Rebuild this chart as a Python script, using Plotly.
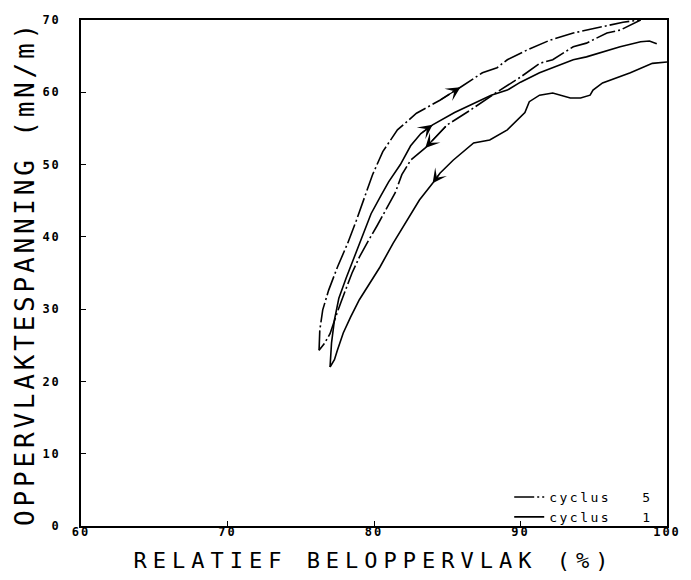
import plotly.graph_objects as go

# ---- data ----
# cyclus 5 (dash-dot): compression (upwards) and expansion (downwards)
c5_comp_x = [76.25, 76.3, 76.5, 76.9, 77.5, 78.2, 78.8, 79.3, 79.9, 80.6, 81.6, 82.9, 84.5, 85.9,
             87.4, 88.4, 89.1, 90.4, 92.0, 93.6, 95.4, 97.0, 98.2]
c5_comp_y = [24.3, 27.1, 29.9, 32.6, 35.8, 39.1, 42.3, 45.3, 48.6, 51.8, 54.8, 57.1, 58.9, 60.7,
             62.7, 63.4, 64.5, 65.8, 67.2, 68.2, 69.0, 69.7, 70.0]
c5_exp_x = [98.2, 96.8, 95.9, 94.5, 93.6, 92.2, 91.3, 90.0, 88.3, 86.55, 85.0, 83.5, 82.5, 81.9,
            81.45, 80.8, 80.2, 79.6, 79.0, 78.5, 78.1, 77.75, 77.4, 77.0, 76.6, 76.25]
c5_exp_y = [70.0, 68.6, 68.2, 66.8, 66.3, 64.5, 64.0, 62.1, 59.9, 57.5, 55.5, 52.3, 50.6, 48.6,
            46.1, 43.6, 41.5, 39.4, 37.2, 35.0, 33.0, 31.0, 29.0, 26.6, 25.2, 24.3]

# cyclus 1 (solid)
c1_comp_x = [77.0, 77.05, 77.1, 77.3, 77.6, 78.1, 78.6, 79.2, 79.8, 80.5, 81.0, 81.8, 82.5, 83.2,
             84.0, 85.5, 87.0, 88.0, 89.1, 90.0, 91.3, 92.2, 93.6, 94.5, 95.9, 96.8, 98.2, 98.8, 99.3]
c1_comp_y = [22.0, 23.5, 25.3, 28.5, 31.5, 34.3, 37.0, 40.2, 43.2, 45.8, 47.6, 50.0, 52.6, 54.3,
             55.5, 57.2, 58.7, 59.6, 60.3, 61.4, 62.7, 63.4, 64.5, 64.9, 65.8, 66.3, 67.0, 67.1, 66.7]
c1_exp_x = [100.0, 99.0, 97.5, 95.6, 94.95, 94.75, 94.1, 93.4, 92.2, 91.3, 90.6, 90.3, 89.1, 87.9,
            86.8, 85.4, 84.5, 84.0, 83.1, 82.25, 81.3, 80.4, 79.7, 79.0, 78.4, 77.9, 77.5, 77.3, 77.0]
c1_exp_y = [64.2, 64.0, 62.7, 61.3, 60.3, 59.6, 59.2, 59.2, 59.9, 59.6, 58.7, 57.2, 54.8, 53.4,
            53.0, 50.6, 48.8, 47.4, 45.1, 42.3, 39.1, 35.8, 33.6, 31.3, 28.9, 26.7, 24.3, 23.0, 22.0]

# index of the curve point that carries a direction arrow (arrow points towards it)
arrow_index = {"c5_comp": 13, "c1_comp": 14, "c5_exp": 11, "c1_exp": 17}

x_ticks = [60, 70, 80, 90, 100]
y_ticks = [0, 10, 20, 30, 40, 50, 60, 70]
legend_names = ["cyclus   5", "cyclus   1"]
x_title = "RELATIEF BELOPPERVLAK (%)"
y_title = "OPPERVLAKTESPANNING (mN/m)"

# ---- figure ----
DASHDOT = "20px,3px,2px,3px"
mono = "DejaVu Sans Mono"
sp = lambda s, ls: f'<span style="letter-spacing:{ls}px">{s}</span>'

fig = go.Figure()
branches = [
    ("c5_comp", c5_comp_x, c5_comp_y, DASHDOT, legend_names[0], True, "c5"),
    ("c5_exp", c5_exp_x, c5_exp_y, DASHDOT, legend_names[0], False, "c5"),
    ("c1_comp", c1_comp_x, c1_comp_y, "solid", legend_names[1], True, "c1"),
    ("c1_exp", c1_exp_x, c1_exp_y, "solid", legend_names[1], False, "c1"),
]
for key, xs, ys, dash, name, show, grp in branches:
    fig.add_trace(go.Scatter(
        x=xs, y=ys, mode="lines", name=sp(name, 2.5), legendgroup=grp, showlegend=show,
        line=dict(color="black", width=1.6, dash=dash),
    ))
    i = arrow_index[key]
    fig.add_annotation(
        x=xs[i], y=ys[i], ax=xs[i - 1], ay=ys[i - 1], xref="x", yref="y", axref="x", ayref="y",
        text="", showarrow=True, arrowhead=3, arrowsize=2.0, arrowwidth=1.2, arrowcolor="black",
        standoff=0,
    )

axis_common = dict(
    showgrid=False, zeroline=False, showline=True, linecolor="black", linewidth=1.5,
    mirror=True, ticks="inside", ticklen=5, tickwidth=1.2, tickcolor="black", automargin=False,
    tickfont=dict(family=mono, size=12, color="black", weight="bold"),
)
fig.update_xaxes(range=[60, 100], tickvals=x_ticks, ticktext=[sp(v, 2) for v in x_ticks],
                 ticklabelstandoff=-6,
                 title=dict(text=sp(x_title, 6), font=dict(family=mono, size=22, color="black"),
                            standoff=14),
                 **axis_common)
fig.update_yaxes(range=[0, 70], tickvals=y_ticks, ticktext=[sp(v, 2) for v in y_ticks],
                 ticklabelstandoff=16,
                 title=dict(text=sp(y_title, 3.8), font=dict(family=mono, size=26, color="black"),
                            standoff=0),
                 **axis_common)

fig.update_layout(
    width=691, height=580,
    margin=dict(l=81, r=24, t=20, b=54),
    paper_bgcolor="white", plot_bgcolor="white",
    legend=dict(x=0.985, y=-0.012, xanchor="right", yanchor="bottom",
                bgcolor="rgba(0,0,0,0)", font=dict(family=mono, size=13, color="black"),
                tracegroupgap=0, itemwidth=30),
    showlegend=True,
)

fig.write_html("out.html")
